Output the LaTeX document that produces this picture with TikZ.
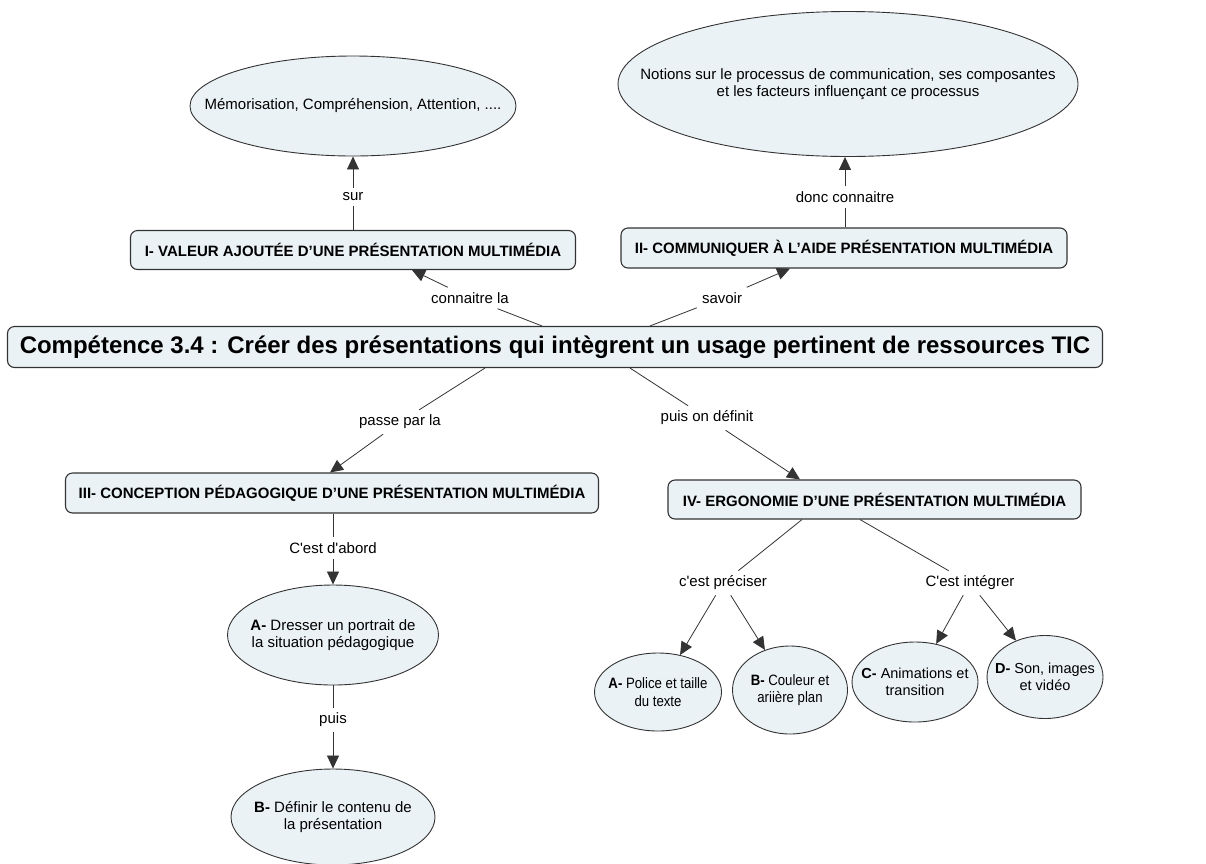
\documentclass[tikz,border=0pt]{standalone}
\usepackage{fontspec}
\setmainfont{Liberation Sans}[Ligatures=TeXOff]
\newfontfamily\narrowfont{Liberation Sans}[FakeStretch=0.88,Ligatures=TeXOff]
\usetikzlibrary{arrows.meta,shapes.geometric}
\definecolor{cfill}{HTML}{EBF2F6}
\definecolor{cline}{HTML}{333333}
\tikzset{
  boxnode/.style={draw=cline, line width=1.1pt, fill=cfill, rounded corners=7pt, font=\fontsize{15}{17}\selectfont\bfseries, inner sep=0pt},
  ellnode/.style={draw=cline, line width=0.9pt, fill=cfill, ellipse, inner xsep=-120pt, inner ysep=-30pt, font=\fontsize{15}{17.5}\selectfont, align=center},
  smallell/.style={ellnode, font=\narrowfont\fontsize{15}{17.5}\selectfont},
  midell/.style={ellnode, font=\fontsize{14.5}{17.5}\selectfont},
  lab/.style={font=\fontsize{15}{17}\selectfont, inner sep=5pt, fill=none},
  conn/.style={draw=cline, line width=0.8pt},
  arr/.style={conn, -{Triangle[length=13pt,width=12pt]}}
}
\begin{document}
\begin{tikzpicture}[x=1pt,y=-1pt]
\useasboundingbox (0,0) rectangle (1206,863);
% main title
\node[boxnode, minimum width=1095pt, minimum height=41pt, font=\fontsize{24}{27}\selectfont\bfseries] (title) at (555,347) {Compétence 3.4 : Créer des présentations qui intègrent un usage pertinent de ressources TIC};
% boxes
\node[boxnode, minimum width=445pt, minimum height=39pt] (b1) at (353,250) {I- VALEUR AJOUTÉE D’UNE PRÉSENTATION MULTIMÉDIA};
\node[boxnode, minimum width=446pt, minimum height=40pt] (b2) at (844,248) {II- COMMUNIQUER À L’AIDE PRÉSENTATION MULTIMÉDIA};
\node[boxnode, minimum width=533pt, minimum height=40pt] (b3) at (332,493) {III- CONCEPTION PÉDAGOGIQUE D’UNE PRÉSENTATION MULTIMÉDIA};
\node[boxnode, minimum width=413pt, minimum height=39pt] (b4) at (874.5,499.5) {IV- ERGONOMIE D’UNE PRÉSENTATION MULTIMÉDIA};
% ellipses
\node[ellnode, minimum width=326pt, minimum height=100pt] (e1) at (353,106) {Mémorisation, Compréhension, Attention, ....};
\node[ellnode, minimum width=460pt, minimum height=145pt] (e2) at (848,84) {Notions sur le processus de communication, ses composantes\\ et les facteurs influençant ce processus};
\node[ellnode, minimum width=211pt, minimum height=100pt] (ea) at (333,635) {\textbf{A-} Dresser un portrait de\\ la situation pédagogique};
\node[ellnode, minimum width=204pt, minimum height=96pt] (eb) at (333,817) {\textbf{B-} Définir le contenu de\\ la présentation};
\node[smallell, minimum width=127pt, minimum height=78pt] (ra) at (658,692) {\textbf{A-} Police et taille\\ du texte};
\node[smallell, minimum width=115pt, minimum height=88pt] (rb) at (790,690) {\textbf{B-} Couleur et\\ ariière plan};
\node[midell, minimum width=126pt, minimum height=80pt] (rc) at (915,682) {\textbf{C-} Animations et\\ transition};
\node[midell, minimum width=116pt, minimum height=83pt] (rd) at (1045,677) {\textbf{D-} Son, images\\ et vidéo};
% labels
\node[lab] (lsur) at (353,197) {sur};
\node[lab] (ldonc) at (845,197) {donc connaitre};
\node[lab] (lconn) at (470,298) {connaitre la};
\node[lab] (lsav) at (722,298) {savoir};
\node[lab] (lpasse) at (400,422) {passe par la};
\node[lab] (lpuison) at (707,418) {puis on définit};
\node[lab] (labord) at (333,548) {C'est d'abord};
\node[lab] (lpuis) at (333,720) {puis};
\node[lab] (lprec) at (723,583) {c'est préciser};
\node[lab] (linteg) at (970,583) {C'est intégrer};
% connectors
\draw[conn] (b1.north) -- (lsur);
\draw[arr] (lsur) -- (e1.south);
\draw[conn] ([xshift=1pt]b2.north) -- (ldonc);
\draw[arr] (ldonc) -- ([xshift=-3pt]e2.south);
\draw[conn] ([xshift=-13pt]title.north) -- (lconn);
\draw[arr] (lconn) -- ([xshift=59pt]b1.south);
\draw[conn] ([xshift=95pt]title.north) -- (lsav);
\draw[arr] (lsav) -- ([xshift=-54pt]b2.south);
\draw[conn] ([xshift=-70pt]title.south) -- (lpasse);
\draw[arr] (lpasse) -- ([xshift=-2pt]b3.north);
\draw[conn] ([xshift=75pt]title.south) -- (lpuison);
\draw[arr] (lpuison) -- ([xshift=-74.5pt]b4.north);
\draw[conn] ([xshift=1pt]b3.south) -- (labord);
\draw[arr] (labord) -- (ea.north);
\draw[conn] (ea.south) -- (lpuis);
\draw[arr] (lpuis) -- (eb.north);
\draw[conn] ([xshift=-72.5pt]b4.south) -- (lprec);
\draw[conn] ([xshift=-14.5pt]b4.south) -- (linteg);
\draw[arr] (lprec) -- (ra);
\draw[arr] (lprec) -- (rb);
\draw[arr] (linteg) -- (rc);
\draw[arr] (linteg) -- (rd);
\end{tikzpicture}
\end{document}
